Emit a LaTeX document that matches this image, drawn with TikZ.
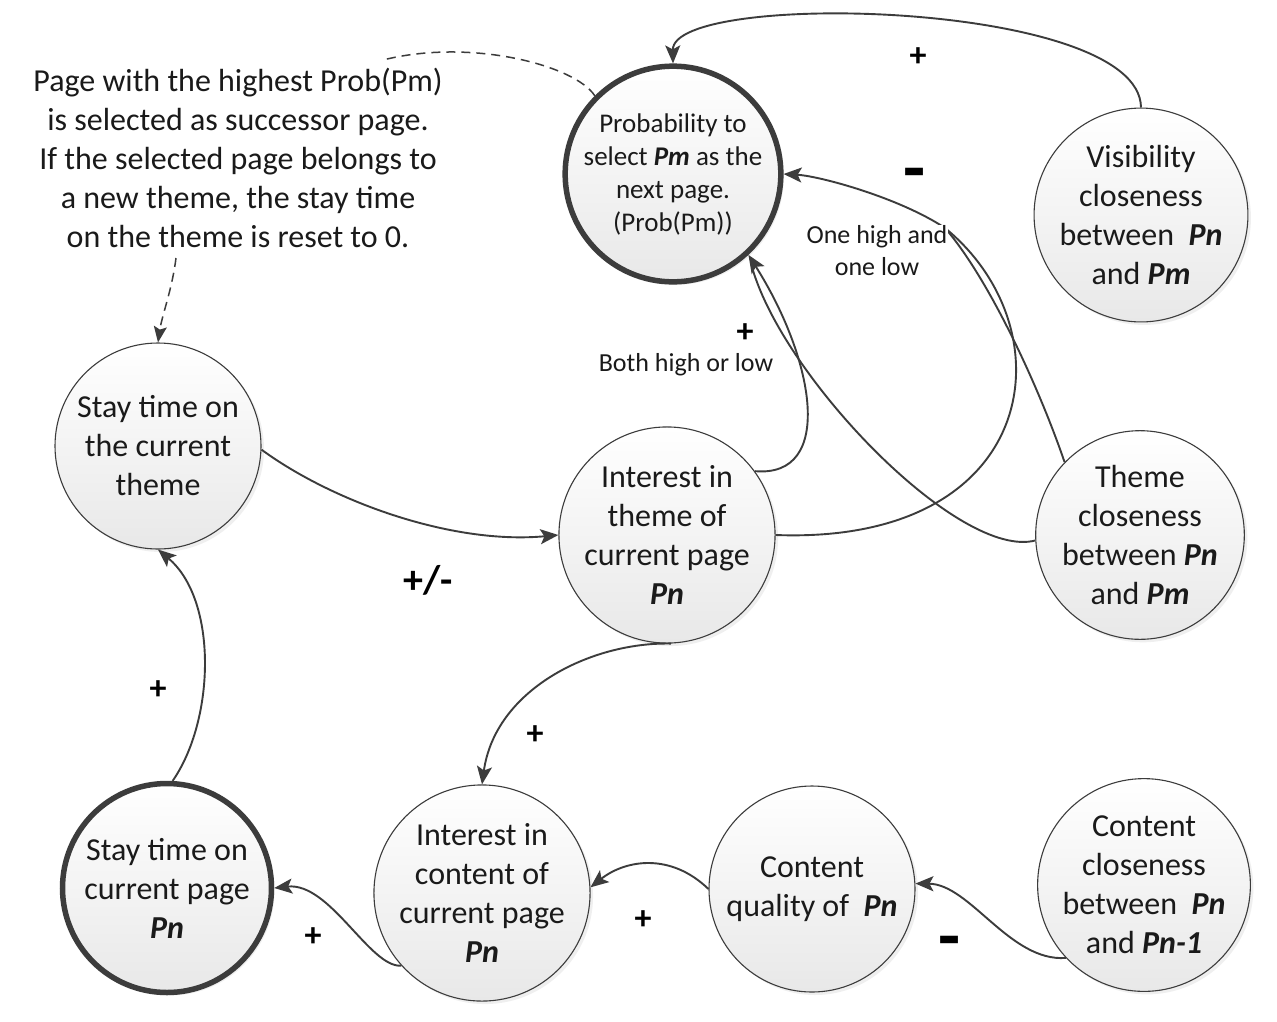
\documentclass[tikz,border=0pt]{standalone}
\usepackage{fontspec}
\setmainfont{Carlito}
\usetikzlibrary{arrows.meta,shadows}
\definecolor{edgec}{HTML}{3C3C3C}
\definecolor{txtc}{HTML}{1A1A1A}
\newcommand\PB[1]{\textbf{\textit{#1}}}
\begin{document}
\begin{tikzpicture}[x=1pt,y=-1pt,
  circ/.style={circle, draw=edgec, line width=1.1pt, top color=white, bottom color=black!9,
    minimum size=206pt, inner sep=0pt, align=center, text=txtc,
    font=\fontsize{32}{39}\selectfont,
    drop shadow={shadow xshift=3pt, shadow yshift=-3pt, opacity=0.12}},
  thickcirc/.style={circ, line width=5.5pt},
  conn/.style={draw=edgec, line width=1.9pt, -{Stealth[length=18pt,width=15pt,inset=4pt]}},
  plainc/.style={draw=edgec, line width=1.9pt},
  dashc/.style={draw=edgec, line width=1.5pt, dash pattern=on 9pt off 6pt},
  lbl/.style={text=txtc, font=\fontsize{26}{32}\selectfont, align=center, inner sep=1pt},
  sgn/.style={text=black, font=\bfseries\fontsize{34}{40}\selectfont, inner sep=0pt},
  bigsgn/.style={text=black, font=\bfseries\fontsize{40}{44}\selectfont, inner sep=0pt},
  minus/.style={text=black, font=\bfseries\fontsize{72}{72}\selectfont, inner sep=0pt}
]
\useasboundingbox[fill=white] (0,0) rectangle (1277,1021);

% nodes
\node[thickcirc, minimum size=196pt, font=\fontsize{27}{33}\selectfont] (prob) at (673,174)
  {Probability to\\select \PB{Pm} as the\\next page.\\(Prob(Pm))};
\node[circ] (vis) at (1141,215) {Visibility\\closeness\\between \ \PB{Pn}\\and \PB{Pm}};
\node[circ] (stayT) at (158,446) {Stay time on\\the current\\theme};
\node[circ, minimum size=204pt] (interT) at (667,535) {Interest in\\theme of\\current page\\\PB{Pn}};
\node[circ] (themeC) at (1140,535) {Theme\\closeness\\between \PB{Pn}\\and \PB{Pm}};
\node[thickcirc, minimum size=209pt] (stayP) at (167,888) {Stay time on\\current page\\\PB{Pn}};
\node[circ, minimum size=208pt] (interC) at (482,893) {Interest in\\content of\\current page\\\PB{Pn}};
\node[circ] (contQ) at (812,889) {Content\\quality of \ \PB{Pn}};
\node[circ] (contC) at (1144,885) {Content\\closeness\\between \ \PB{Pn}\\and \PB{Pn-1}};

% annotation
\node[text=txtc, font=\fontsize{32}{39}\selectfont, align=center, inner sep=0pt] (note) at (238,158)
  {Page with the highest Prob(Pm)\\is selected as successor page.\\If the selected page belongs to\\a new theme, the stay time\\on the theme is reset to 0.};
\coordinate (d1) at (383,60);
\coordinate (d2) at (176,258);
\draw[dashc] (prob.135) .. controls (575,65) and (470,38) .. (d1);
\draw[dashc, -{Stealth[length=16pt,width=13pt,inset=3pt]}] (d2) .. controls (172,290) and (162,315) .. (stayT.north);

% connectors
\draw[conn] (vis.90) .. controls (1140,0) and (672,-10) .. (prob.90);
\coordinate (j1) at (945,228);
\draw[conn] (interT.0) .. controls (1040,545) and (1070,330) .. (j1) .. controls (900,198) and (820,176) .. (prob.0);
\draw[plainc] (themeC.136) .. controls (1040,390) and (990,280) .. (j1);
\draw[conn] (interT.36) .. controls (835,478) and (815,360) .. (prob.-47);
\draw[plainc, shorten >=14pt] (themeC.183) .. controls (960,560) and (785,380) .. (prob.-47);
\draw[conn] (stayT.-2) .. controls (330,500) and (450,545) .. (interT.180);
\draw[conn] (interT.-88) .. controls (590,642) and (495,690) .. (interC.90);
\draw[conn] (contC.223) .. controls (1010,962) and (970,884) .. (contQ.3);
\draw[conn] (contQ.180) .. controls (670,852) and (625,860) .. (interC.3);
\draw[conn] (interC.222) .. controls (370,968) and (330,882) .. (stayP.0);
\draw[conn] (stayP.87) .. controls (215,720) and (218,600) .. (stayT.-90);

% labels
\node[lbl, fill=white] (l1) at (877,251) {One high and\\one low};
\node[lbl] (l2) at (686,365) {Both high or low};
\node[sgn] (s1) at (918,57) {+};
\node[minus] (s2) at (915,180) {-};
\node[sgn] (s3) at (745,333) {+};
\node[bigsgn] (s4) at (428,580) {+/-};
\node[sgn] (s5) at (535,735) {+};
\node[sgn] (s6) at (158,690) {+};
\node[sgn] (s7) at (313,937) {+};
\node[sgn] (s8) at (643,920) {+};
\node[minus] (s9) at (950,948) {-};
\end{tikzpicture}
\end{document}
